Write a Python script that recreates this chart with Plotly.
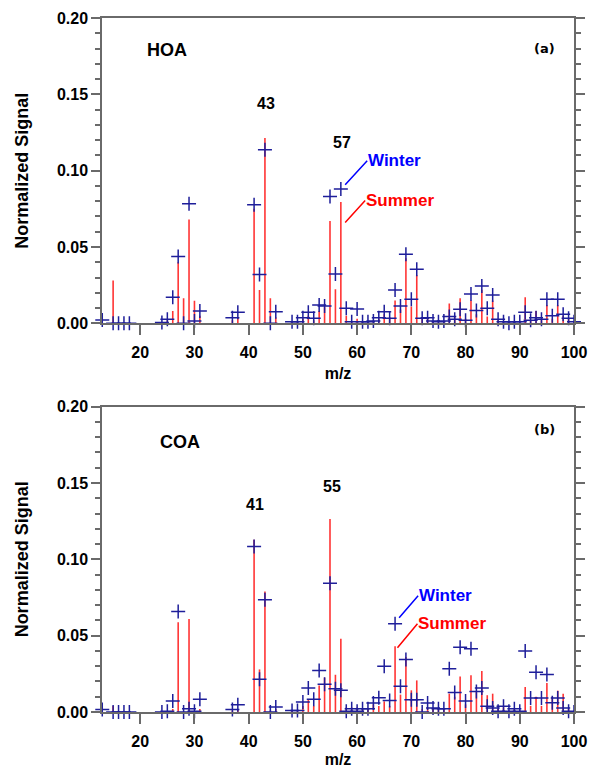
import plotly.graph_objects as go

# ---- data ----
mz = [13, 15, 16, 17, 18, 24, 25, 26, 27, 28, 29, 30, 31, 37, 38, 41, 42, 43, 44, 45,
      48, 49, 50, 51, 52, 53, 54, 55, 56, 57, 58, 59, 60, 61, 62, 63, 64, 65, 66, 67,
      68, 69, 70, 71, 72, 73, 74, 75, 76, 77, 78, 79, 80, 81, 82, 83, 84, 85, 86, 87,
      88, 89, 90, 91, 92, 93, 94, 95, 96, 97, 98, 99, 100]

hoa_winter = [0.0022, 0, 0, 0, 0, 0.0005, 0.0026, 0.017, 0.0437, 0, 0.0783, 0.0015, 0.008, 0.0037, 0.0072,
              0.0776, 0.032, 0.1137, 0, 0.0076,
              0.001, 0.001, 0.0037, 0.0072, 0.0033, 0.012, 0.0114, 0.083, 0.0323, 0.088, 0.0098, 0.001,
              0.0094, 0.001, 0.001, 0.0015, 0.0037, 0.0076, 0.0033, 0.0218,
              0.0114, 0.0453, 0.0157, 0.0354, 0.0033, 0.0037, 0.0015, 0.001, 0.0015, 0.0044, 0.0026,
              0.0092, 0.002, 0.0192, 0.0083, 0.0245, 0.0098, 0.0186, 0.0026, 0.001,
              0, 0.001, 0.001, 0.0072, 0.002, 0.0037, 0.0026, 0.0157, 0.005, 0.0157, 0.0059, 0.0033, 0.001]

hoa_summer = [0, 0.028, 0, 0, 0, 0, 0.002, 0.008, 0.040, 0.0164, 0.068, 0.0148, 0.005, 0.002, 0.004,
              0.075, 0.0218, 0.1214, 0.0164, 0.004,
              0.0005, 0.001, 0.003, 0.005, 0.002, 0.008, 0.0105, 0.067, 0.0223, 0.0794, 0.005, 0.001,
              0.003, 0.001, 0.001, 0.002, 0.003, 0.006, 0.004, 0.015,
              0.009, 0.0426, 0.011, 0.0317, 0.003, 0.003, 0.001, 0.001, 0.001, 0.013, 0.004,
              0.0164, 0.003, 0.015, 0.006, 0.022, 0.0044, 0.015, 0.002, 0.001,
              0.001, 0.001, 0.001, 0.017, 0.002, 0.008, 0.002, 0.012, 0.003, 0.012, 0.005, 0.003, 0.001]

coa_winter = [0.0016, 0, 0, 0, 0, 0, 0.0005, 0.0072, 0.0658, 0, 0.0022, 0.0005, 0.0083, 0.0016, 0.0048,
              0.1085, 0.0214, 0.0735, 0, 0.0033,
              0.001, 0.001, 0.0065, 0.0157, 0.0083, 0.0272, 0.0181, 0.0843, 0.0153, 0.0142, 0.0005, 0.0022,
              0.0005, 0.0022, 0.0022, 0.0059, 0.0094, 0.0299, 0.0076, 0.0578,
              0.0168, 0.0344, 0.0081, 0.0081, 0, 0.0059, 0.0027, 0.0022, 0.0022, 0.0284, 0.0127,
              0.0425, 0.0072, 0.0414, 0.0135, 0.0157, 0.0037, 0.0027, 0.0005, 0.0037,
              0.0005, 0.0022, 0.0005, 0.0399, 0.0092, 0.0261, 0.0092, 0.0246, 0.0061, 0.0092, 0.0027, 0.0005, 0]

coa_summer = [0, 0.004, 0, 0, 0, 0, 0, 0.002, 0.0588, 0, 0.061, 0, 0.002, 0.001, 0.002,
              0.1129, 0.0279, 0.0789, 0.001, 0.002,
              0.001, 0.001, 0.004, 0.008, 0.004, 0.0174, 0.0225, 0.1264, 0.0244, 0.048, 0.003, 0.003,
              0.003, 0.002, 0.002, 0.005, 0.004, 0.007, 0.004, 0.0431,
              0.0114, 0.036, 0.0142, 0.0207, 0.002, 0.003, 0.002, 0.002, 0.002, 0.012, 0.01,
              0.0233, 0.005, 0.024, 0.013, 0.0268, 0.011, 0.012, 0.002, 0.003,
              0.001, 0.002, 0.001, 0.0163, 0.004, 0.01, 0.004, 0.019, 0.01, 0.014, 0.012, 0.002, 0.001]

x_ticks = [20, 30, 40, 50, 60, 70, 80, 90, 100]
y_ticks = [0.00, 0.05, 0.10, 0.15, 0.20]

# ---- styles ----
FONT = "Liberation Sans"
AX = "#6a6a6a"
STEM = "rgba(255,30,30,0.9)"
MARK = "#1e1e9a"


def stems(xs, ys):
    sx, sy = [], []
    for m, v in zip(xs, ys):
        sx += [m, m, None]
        sy += [0, v, None]
    return sx, sy


fig = go.Figure()

for xa, ya, summer, winter in [("x", "y", hoa_summer, hoa_winter), ("x2", "y2", coa_summer, coa_winter)]:
    sx, sy = stems(mz, summer)
    fig.add_trace(go.Scatter(x=sx, y=sy, mode="lines", line=dict(color=STEM, width=1.6),
                             xaxis=xa, yaxis=ya, showlegend=False, name="Summer", connectgaps=False))
    fig.add_trace(go.Scatter(x=mz, y=winter, mode="markers", cliponaxis=False,
                             marker=dict(symbol="cross-thin", size=10, line=dict(width=1.5, color=MARK)),
                             xaxis=xa, yaxis=ya, showlegend=False, name="Winter"))

xcommon = dict(range=[12.95, 100.0], tickmode="array", tickvals=x_ticks, ticks="outside", ticklen=10,
               tickwidth=1.5, tickcolor=AX, showline=True, linecolor=AX, linewidth=1.5, mirror=True,
               showgrid=False, zeroline=False, ticklabelstandoff=4, automargin=False,
               tickfont=dict(family=FONT, size=16, color="black", weight="bold"),
               title=dict(text="m/z", font=dict(family=FONT, size=16, color="black", weight="bold"), standoff=8))
ycommon = dict(range=[0, 0.2], tickmode="array", tickvals=y_ticks, tickformat=".2f", ticks="outside",
               ticklen=9, tickwidth=1.5, tickcolor=AX, showline=True, linecolor=AX, linewidth=1.5,
               mirror="ticks", showgrid=False, zeroline=False, automargin=False,
               minor=dict(dtick=0.01, ticks="outside", ticklen=5, tickwidth=1.5, tickcolor=AX, showgrid=False),
               tickfont=dict(family=FONT, size=16, color="black", weight="bold"),
               title=dict(text="Normalized Signal", font=dict(family=FONT, size=18, color="black", weight="bold"),
                          standoff=24))

fig.update_layout(
    width=591, height=768, plot_bgcolor="white", paper_bgcolor="white",
    margin=dict(l=102, r=17, t=18, b=56, autoexpand=False),
    xaxis=dict(xcommon, domain=[0, 1], anchor="y"),
    yaxis=dict(ycommon, domain=[0.5601, 1.0], anchor="x"),
    xaxis2=dict(xcommon, domain=[0, 1], anchor="y2"),
    yaxis2=dict(ycommon, domain=[0.0, 0.4399], anchor="x2"),
)

bold = lambda size, color="black": dict(family=FONT, size=size, color=color, weight="bold")
ann = []
# panel labels
ann.append(dict(text="HOA", xref="x domain", yref="y domain", x=0.092, y=0.935, showarrow=False, font=bold(18)))
ann.append(dict(text="(a)", xref="x domain", yref="y domain", x=0.964, y=0.932, showarrow=False,
                font=dict(family="DejaVu Sans", size=13, color="black", weight="bold")))
ann.append(dict(text="COA", xref="x2 domain", yref="y2 domain", x=0.118, y=0.924, showarrow=False, font=bold(18)))
ann.append(dict(text="(b)", xref="x2 domain", yref="y2 domain", x=0.964, y=0.957, showarrow=False,
                font=dict(family="DejaVu Sans", size=13, color="black", weight="bold")))
# peak labels
ann.append(dict(text="43", xref="x", yref="y", x=43.26, y=0.1439, showarrow=False, font=bold(16)))
ann.append(dict(text="57", xref="x", yref="y", x=57.16, y=0.1183, showarrow=False, font=bold(16)))
ann.append(dict(text="41", xref="x2", yref="y2", x=41.2, y=0.136, showarrow=False, font=bold(16)))
ann.append(dict(text="55", xref="x2", yref="y2", x=55.3, y=0.148, showarrow=False, font=bold(16)))
# season labels with leader lines
for xr, yr, txt, col, hx, hy, ax, ay in [
    ("x", "y", "Winter", "#0000ff", 57.8, 0.0907, 22, -24),
    ("x", "y", "Summer", "#ff0000", 57.8, 0.066, 20, -22),
    ("x2", "y2", "Winter", "#0000ff", 67.75, 0.0617, 19, -22),
    ("x2", "y2", "Summer", "#ff0000", 67.44, 0.0421, 20, -24),
]:
    ann.append(dict(text=txt, xref=xr, yref=yr, x=hx, y=hy, showarrow=True, arrowhead=0, arrowwidth=1.5,
                    arrowcolor=col, ax=ax, ay=ay, xanchor="left", yanchor="middle", standoff=0,
                    borderpad=0, font=bold(17, col)))
fig.update_layout(annotations=ann)

fig.write_html("out.html")
